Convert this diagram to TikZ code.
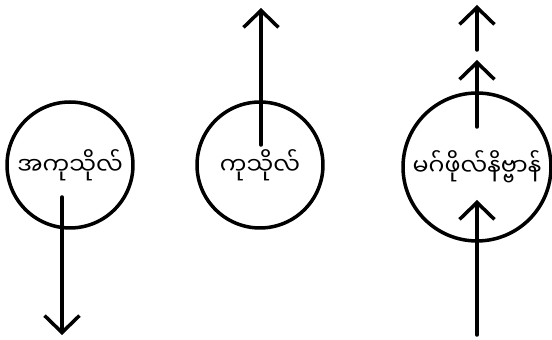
\documentclass[tikz,border=0pt]{standalone}
\usepackage{fontspec}
\newfontfamily\mmfont[Script=Myanmar]{Noto Sans Myanmar UI}
\usetikzlibrary{arrows.meta, positioning, calc}

\begin{document}
\begin{tikzpicture}[x=0.02cm, y=-0.02cm, line width=2pt, line cap=round,
    ring/.style={circle, draw, inner sep=0pt, minimum size=2.52cm},
    every label/.style={font=\mmfont\fontsize{13.5}{16}\selectfont, inner sep=0pt},
    arr/.style={-{Straight Barb[length=3.4mm, width=7mm]}}]
    \useasboundingbox (0,0) rectangle (552,340);
    \node[ring, label=center:{အကုသိုလ်}] (akusala) at (70,165) {};
    \node[ring, label=center:{ကုသိုလ်}] (kusala) at (260,165) {};
    \node[ring, minimum size=2.96cm, label=center:{မဂ်ဖိုလ်နိဗ္ဗာန်}] (nibbana) at (477,167) {};
    % arrow ends
    \coordinate (a1) at (62,197);
    \coordinate (a2) at (62,335);
    \coordinate (k1) at (261,145);
    \coordinate (k2) at (261,8);
    \coordinate (n1) at (477,335);
    \coordinate (n2) at (477,200);
    \coordinate (n3) at (477,127);
    \coordinate (n4) at (477,60);
    \coordinate (n5) at (477,50);
    \coordinate (n6) at (477,5);
    \draw[arr] (a1) -- (a2);
    \draw[arr] (k1) -- (k2);
    \draw[arr] (n1) -- (n2);
    \draw[arr] (n3) -- (n4);
    \draw[arr] (n5) -- (n6);
\end{tikzpicture}
\end{document}
